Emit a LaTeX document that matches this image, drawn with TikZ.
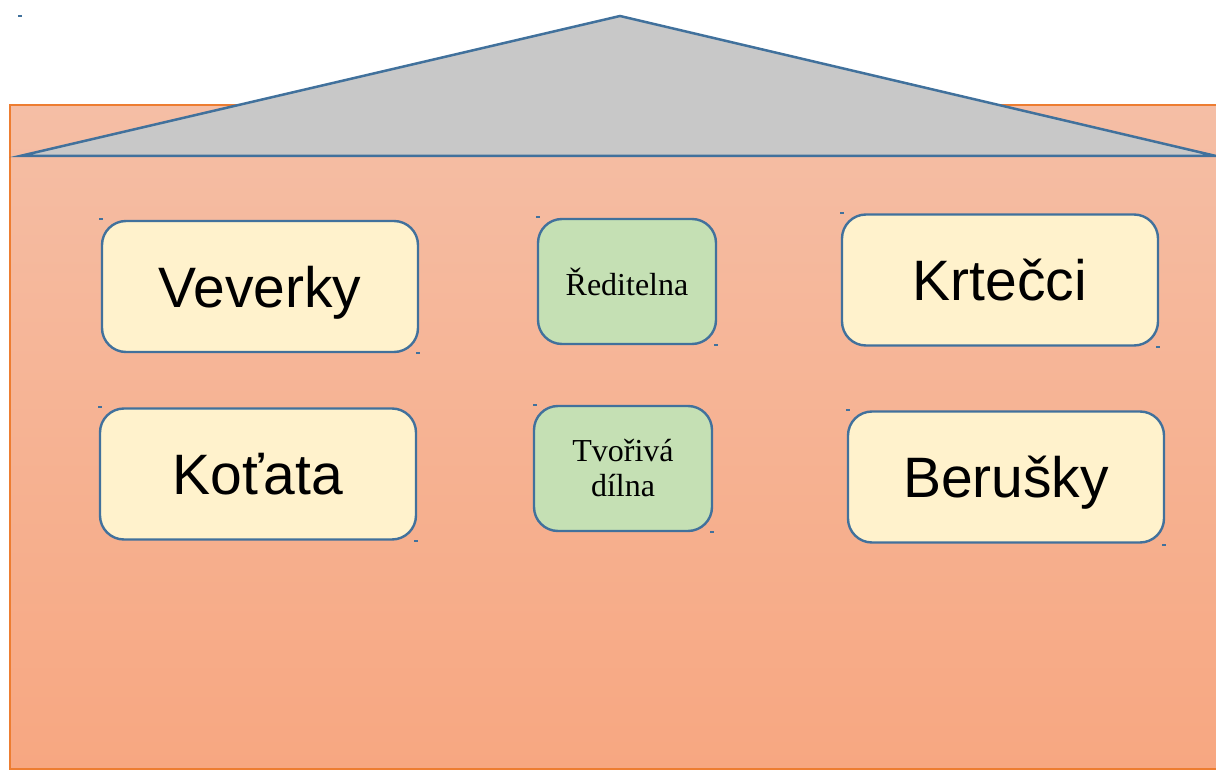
\documentclass[tikz,border=0pt]{standalone}
\usepackage{fontspec}
\setmainfont{Liberation Serif}
\newfontfamily\kidfont{Liberation Sans}
\definecolor{boxblue}{HTML}{41719C}
\definecolor{roofgray}{HTML}{C8C8C8}
\definecolor{cream}{HTML}{FFF2CC}
\definecolor{mint}{HTML}{C5E0B4}
\definecolor{walltop}{HTML}{F5BEA5}
\definecolor{wallbot}{HTML}{F7A781}
\definecolor{wallline}{HTML}{ED7D31}
\tikzset{
  room/.style={draw=boxblue, line width=2.4pt, rounded corners=24pt, inner sep=0pt,
    minimum width=316pt, minimum height=131pt, fill=cream,
    text height=41pt, text depth=0pt,
    font=\kidfont\fontsize{57}{61}\selectfont},
  office/.style={draw=boxblue, line width=2.4pt, rounded corners=24pt, inner sep=0pt,
    minimum width=178pt, minimum height=125pt, fill=mint, align=center,
    font=\fontsize{32}{35}\selectfont},
  tick/.style={fill=boxblue}
}
\begin{document}
\begin{tikzpicture}[x=1pt,y=-1pt]
\useasboundingbox (0,0) rectangle (1216,770);
% wall
\shade[top color=walltop, bottom color=wallbot] (10,105) rectangle (1220,769);
\draw[wallline, line width=1.4pt] (1220,105) -- (10,105) -- (10,769) -- (1220,769);
% roof
\coordinate (eaveL) at (20,156);
\coordinate (apex) at (620,16);
\coordinate (eaveR) at (1216,156);
\draw[boxblue, line width=2.5pt, fill=roofgray, line join=miter] (eaveL) -- (apex) -- (eaveR) -- cycle;
% rooms
\node[room] (veverky) at (260,286.5) {Veverky};
\node[office] (reditelna) at (627,281.5) {Ředitelna};
\node[room] (krtecci) at (1000,280) {Krtečci};
\node[room] (kotata) at (258,474) {Koťata};
\node[office] (dilna) at (623,468.5) {Tvořivá\\dílna};
\node[room] (berusky) at (1006,477) {Berušky};
% tiny handle marks
\foreach \p in {(20,16),(101,219),(418,353),(538,217),(716,345),(842,213),(1158,347),(100,407),(416,541),(535,405),(712,532),(848,410),(1164,545)}{
  \fill[tick] \p ++(-1.6,-1.4) rectangle ++(3.2,2.8);
}
\end{tikzpicture}
\end{document}
